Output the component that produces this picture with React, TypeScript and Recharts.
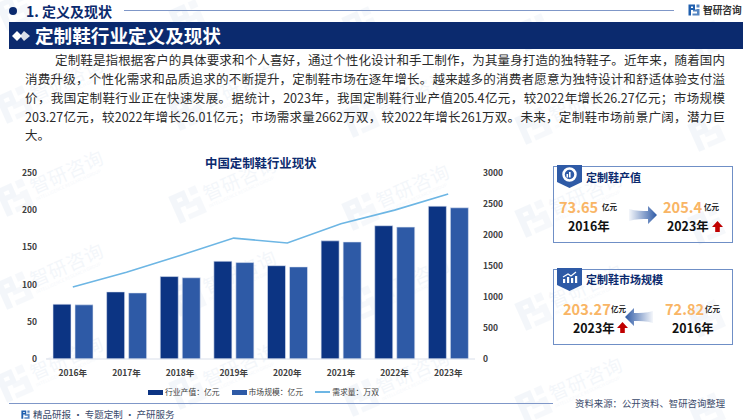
import React from 'react'
import {
  Bar,
  ComposedChart,
  Legend,
  Line,
  XAxis,
  YAxis
} from 'recharts'

const years = ['2016年', '2017年', '2018年', '2019年', '2020年', '2021年', '2022年', '2023年']
const outputValue = [73.65, 90.2, 110.8, 131.4, 125.4, 158.8, 179.13, 205.4]
const marketSize = [72.82, 88.8, 109.2, 129.6, 123.8, 157.3, 177.26, 203.27]
const demand = [1160, 1400, 1670, 1950, 1870, 2180, 2401, 2662]

const leftTicks = [0, 50, 100, 150, 200, 250]
const rightTicks = [0, 500, 1000, 1500, 2000, 2500, 3000]

const paragraphLines = [
  '定制鞋是指根据客户的具体要求和个人喜好，通过个性化设计和手工制作，为其量身打造的独特鞋子。近年来，随着国内',
  '消费升级，个性化需求和品质追求的不断提升，定制鞋市场在逐年增长。越来越多的消费者愿意为独特设计和舒适体验支付溢',
  '价，我国定制鞋行业正在快速发展。据统计，2023年，我国定制鞋行业产值205.4亿元，较2022年增长26.27亿元；市场规模',
  '203.27亿元，较2022年增长26.01亿元；市场需求量2662万双，较2022年增长261万双。未来，定制鞋市场前景广阔，潜力巨'
]

const chartData = years.map((year, i) => ({
  year,
  output: outputValue[i],
  market: marketSize[i],
  demand: demand[i]
}))

const FONT = '"Noto Sans CJK SC", "Noto Sans", sans-serif'
const NAVY = '#0b2a6e'
const BAR_DARK = '#0c3483'
const BAR_LIGHT = '#2e5aa6'
const LINE_BLUE = '#6db6e4'
const ORANGE = '#f9b565'

function Abs({ x, y, children, style }: { x: number; y: number; children: React.ReactNode; style?: React.CSSProperties }) {
  return (
    <div style={{ position: 'absolute', left: x, top: y, whiteSpace: 'nowrap', ...style }}>
      {children}
    </div>
  )
}

function LogoMark({ size, color }: { size: number; color: string }) {
  return (
    <svg width={size} height={size} viewBox="0 0 24 24" style={{ display: 'block' }}>
      <path d="M1 1H14V12H6V23H1ZM6 5V8H10V5Z" fill={color} fillRule="evenodd" />
      <path d="M17 1H23V7H17ZM17 10H23V23H9V19H18V15H10V11H17Z" fill={color} opacity={0.75} />
    </svg>
  )
}

function Watermarks() {
  const marks: { x: number; y: number; withText: boolean }[] = []
  for (let row = 0; row < 5; row++) {
    for (let col = 0; col < 5; col++) {
      const x = col * 173
      const y = row * 93 + 2 + col * 7
      // keep the lettering only where it stays on the page
      marks.push({ x, y, withText: y > 35 && x < 650 })
    }
  }
  return (
    <>
      {marks.map((m, i) => (
        <div
          key={i}
          style={{
            position: 'absolute',
            left: m.x,
            top: m.y,
            transform: 'rotate(-24deg)',
            transformOrigin: 'left center',
            display: 'flex',
            alignItems: 'center',
            gap: 3,
            opacity: 0.05,
            color: '#2f6bb0',
            whiteSpace: 'nowrap'
          }}
        >
          <LogoMark size={32} color="#2f6bb0" />
          {m.withText && (
            <div style={{ fontFamily: FONT, lineHeight: 1 }}>
              <div style={{ fontSize: 19, letterSpacing: 0.5 }}>智研咨询</div>
              <div style={{ fontSize: 4.5, marginTop: 2 }}>INTELLIGENCE RESEARCH GROUP</div>
            </div>
          )}
        </div>
      ))}
    </>
  )
}

function ChartLegend() {
  const items = [
    { label: '行业产值：亿元', color: BAR_DARK, line: false },
    { label: '市场规模：亿元', color: BAR_LIGHT, line: false },
    { label: '需求量：万双', color: LINE_BLUE, line: true }
  ]
  return (
    <div style={{ display: 'flex', paddingLeft: 148, gap: 12, fontFamily: FONT, fontSize: 7.8, lineHeight: '14px', color: '#404040' }}>
      {items.map(item => (
        <span key={item.label} style={{ display: 'flex', alignItems: 'center', gap: 2 }}>
          <span style={{ width: 15, height: item.line ? 1.5 : 5, background: item.color, display: 'inline-block' }} />
          {item.label}
        </span>
      ))}
    </div>
  )
}

function Arrow({ flip }: { flip?: boolean }) {
  const id = flip ? 'arrowGradFlip' : 'arrowGrad'
  return (
    <svg width={28} height={18} viewBox="0 0 28 18" style={{ display: 'block', transform: flip ? 'scaleX(-1)' : undefined }}>
      <defs>
        <linearGradient id={id} x1="0" x2="1" y1="0" y2="0">
          <stop offset="0" stopColor="#2e5aa6" stopOpacity={0.05} />
          <stop offset="1" stopColor="#2e5aa6" />
        </linearGradient>
      </defs>
      <path d="M0 3C7 5 13 5 19 5V0L28 9L19 18V13C13 13 7 13 0 15Z" fill={`url(#${id})`} />
    </svg>
  )
}

function UpArrow({ x, y }: { x: number; y: number }) {
  return (
    <svg width={11} height={11} viewBox="0 0 11 11" style={{ position: 'absolute', left: x, top: y }}>
      <path d="M5.5 0L11 6H7.8V11H3.2V6H0Z" fill="#c00000" />
    </svg>
  )
}

function Badge({ x, y, children }: { x: number; y: number; children: React.ReactNode }) {
  return (
    <svg width={25} height={23} viewBox="0 0 25 23" style={{ position: 'absolute', left: x, top: y }}>
      <path d="M0 0H25V17L12.5 23L0 17Z" fill="#2e5aa6" />
      {children}
    </svg>
  )
}

function Cards() {
  const num = { fontFamily: FONT, fontWeight: 700, color: ORANGE, fontSize: 14.6, lineHeight: '18px' }
  const unit = { fontFamily: FONT, fontWeight: 700, color: '#222', fontSize: 7.5, lineHeight: '10px' }
  const year = { fontFamily: FONT, fontWeight: 700, color: '#111', fontSize: 12.4, lineHeight: '14px' }
  const head = { fontFamily: FONT, fontWeight: 700, color: NAVY, fontSize: 11, lineHeight: '12px' }
  const box: React.CSSProperties = { position: 'absolute', left: 553, width: 178, border: '1px solid #6f8fc6', boxSizing: 'content-box' }
  return (
    <>
      <div style={{ ...box, top: 166, height: 75 }} />
      <Badge x={557} y={165}>
        <circle cx="12.5" cy="9.5" r="6" fill="none" stroke="#fff" strokeWidth="2.5" />
        <rect x="9.5" y="9" width="1.6" height="3.5" fill="#fff" />
        <rect x="12" y="7" width="1.6" height="5.5" fill="#fff" />
      </Badge>
      <Abs x={586} y={171} style={head}>定制鞋产值</Abs>
      <Abs x={559} y={198} style={num}>73.65</Abs>
      <Abs x={602} y={202} style={unit}>亿元</Abs>
      <Abs x={568} y={219} style={year}>2016年</Abs>
      <div style={{ position: 'absolute', left: 629, top: 206 }}><Arrow /></div>
      <Abs x={663} y={198} style={num}>205.4</Abs>
      <Abs x={704} y={202} style={unit}>亿元</Abs>
      <Abs x={667} y={219} style={year}>2023年</Abs>
      <UpArrow x={712} y={221} />

      <div style={{ ...box, top: 269, height: 74 }} />
      <Badge x={557} y={268}>
        <path d="M6 9L11 6L14 8L19 4" fill="none" stroke="#fff" strokeWidth="1.2" />
        <rect x="6" y="11" width="2.2" height="4" fill="#fff" />
        <rect x="10" y="9" width="2.2" height="6" fill="#fff" />
        <rect x="14" y="10" width="2.2" height="5" fill="#fff" />
        <rect x="18" y="8" width="2.2" height="7" fill="#fff" />
      </Badge>
      <Abs x={586} y={273} style={head}>定制鞋市场规模</Abs>
      <Abs x={563} y={300} style={num}>203.27</Abs>
      <Abs x={611} y={304} style={unit}>亿元</Abs>
      <Abs x={573} y={321} style={year}>2023年</Abs>
      <UpArrow x={617} y={322} />
      <div style={{ position: 'absolute', left: 625, top: 308 }}><Arrow flip /></div>
      <Abs x={665} y={300} style={num}>72.82</Abs>
      <Abs x={705} y={304} style={unit}>亿元</Abs>
      <Abs x={672} y={321} style={year}>2016年</Abs>
    </>
  )
}

export default function App() {
  const tick = { fontSize: 8.5, fill: '#404040', fontFamily: FONT, fontWeight: 700 }
  return (
    <div style={{ position: 'absolute', left: 0, top: 0, width: 750, height: 420, overflow: 'hidden', background: '#fff', fontFamily: FONT }}>
      <Watermarks />

      {/* page header */}
      <div style={{ position: 'absolute', left: 9, top: 6.5, width: 8, height: 8, borderRadius: 4, background: NAVY }} />
      <Abs x={26} y={2} style={{ fontSize: 14, fontWeight: 700, color: NAVY, lineHeight: '18px' }}>1. 定义及现状</Abs>
      <div style={{ position: 'absolute', left: 124, top: 10, width: 550, height: 1, background: '#7f97c8' }} />
      <div style={{ position: 'absolute', left: 688, top: 4 }}><LogoMark size={12} color="#1f5fae" /></div>
      <Abs x={703} y={2} style={{ fontSize: 9.7, fontWeight: 700, color: '#333', lineHeight: '16px' }}>智研咨询</Abs>

      {/* title band */}
      <div style={{ position: 'absolute', left: 9, top: 22, width: 734, height: 27, background: NAVY }} />
      <svg width={18} height={10} viewBox="0 0 18 10" style={{ position: 'absolute', left: 12, top: 31 }}>
        <path d="M5 0L10 5L5 10L0 5Z" fill="#fff" />
        <path d="M12 0L18 5L12 10L8 5Z" fill="#fff" opacity={0.85} />
      </svg>
      <Abs x={35} y={22} style={{ fontSize: 18.6, fontWeight: 700, color: '#fff', lineHeight: '26px' }}>定制鞋行业定义及现状</Abs>

      {/* intro paragraph */}
      {paragraphLines.map((line, i) => (
        <div
          key={i}
          style={{
            position: 'absolute',
            left: i === 0 ? 55 : 25,
            top: 51 + i * 18.9,
            width: i === 0 ? 670 : 700,
            fontSize: 12.5,
            lineHeight: '18px',
            color: '#2b2b2b',
            textAlign: 'justify',
            textAlignLast: 'justify',
            whiteSpace: 'nowrap'
          }}
        >
          {line}
        </div>
      ))}
      <Abs x={25} y={126} style={{ fontSize: 12.5, lineHeight: '18px', color: '#2b2b2b' }}>大。</Abs>

      {/* chart */}
      <Abs x={205} y={155} style={{ fontSize: 12.4, fontWeight: 700, color: NAVY, lineHeight: '16px' }}>中国定制鞋行业现状</Abs>
      <div style={{ position: 'absolute', left: 0, top: 163 }}>
        <ComposedChart
          width={520}
          height={236}
          data={chartData}
          margin={{ top: 10, right: 0, bottom: 0, left: 0 }}
          barSize={18}
          barGap={4}
        >
          <XAxis
            dataKey="year"
            tick={tick}
            axisLine={{ stroke: '#d9dfea' }}
            tickLine={false}
            tickSize={0}
            tickMargin={11}
            height={26}
            interval={0}
          />
          <YAxis
            yAxisId="left"
            domain={[0, 250]}
            ticks={leftTicks}
            tick={tick}
            axisLine={false}
            tickLine={false}
            tickSize={0}
            tickMargin={9}
            width={46}
          />
          <YAxis
            yAxisId="right"
            orientation="right"
            domain={[0, 3000]}
            ticks={rightTicks}
            tick={tick}
            axisLine={false}
            tickLine={false}
            tickSize={0}
            tickMargin={8}
            width={45}
          />
          <Bar yAxisId="left" dataKey="output" name="行业产值：亿元" fill={BAR_DARK} stroke="#dfe6f3" strokeWidth={0.6} isAnimationActive={false} />
          <Bar yAxisId="left" dataKey="market" name="市场规模：亿元" fill={BAR_LIGHT} stroke="#dfe6f3" strokeWidth={0.6} isAnimationActive={false} />
          <Line yAxisId="right" dataKey="demand" name="需求量：万双" stroke={LINE_BLUE} strokeWidth={1.6} dot={false} isAnimationActive={false} />
          <Legend content={<ChartLegend />} verticalAlign="bottom" height={14} wrapperStyle={{ left: 0, width: 520 }} />
        </ComposedChart>
      </div>

      <Cards />

      {/* footer */}
      <div style={{ position: 'absolute', left: 9, top: 403, width: 544, height: 1, background: '#7f97c8' }} />
      <div style={{ position: 'absolute', left: 21, top: 410 }}><LogoMark size={9} color="#1f5fae" /></div>
      <Abs x={33} y={407} style={{ fontSize: 9.5, color: '#3a4a6b', lineHeight: '14px' }}>精品研报 · 专题定制 · 产研服务</Abs>
      <Abs x={575} y={397} style={{ fontSize: 9.4, color: '#3a4a6b', lineHeight: '12px' }}>资料来源：公开资料、智研咨询整理</Abs>
    </div>
  )
}
